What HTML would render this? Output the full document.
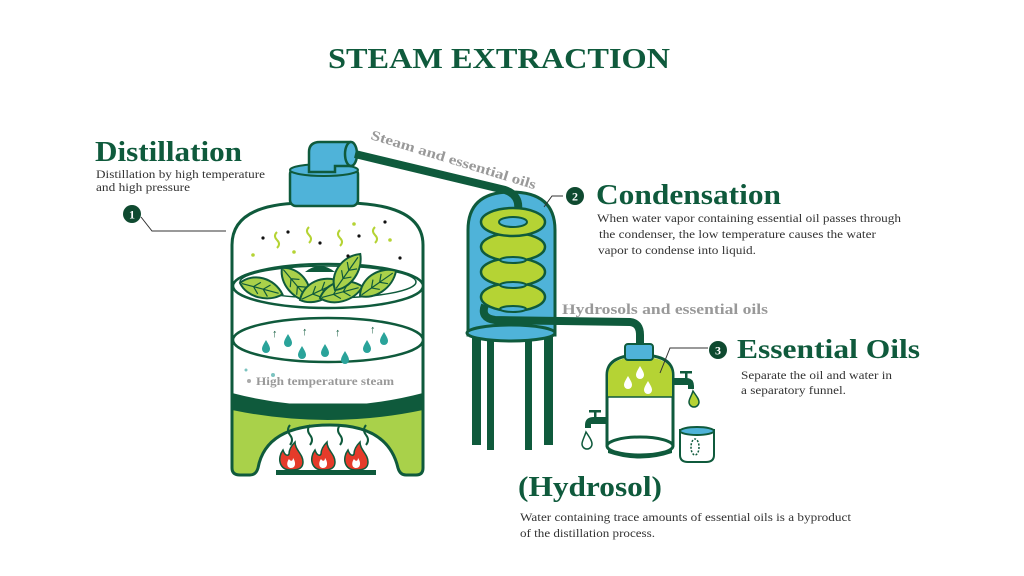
<!DOCTYPE html>
<html><head><meta charset="utf-8"><style>
html,body{margin:0;padding:0;background:#fff;}
svg{display:block}
text{font-family:"Liberation Serif",serif;}
</style></head><body>
<svg width="1024" height="576" viewBox="0 0 1024 576" xmlns="http://www.w3.org/2000/svg">
<defs>
<g id="leaf"><path d="M0,0 C10,-14 32,-14 44,0 C32,12 10,12 0,0Z" fill="#a9d14a" stroke="#0f5a3c" stroke-width="2"/><path d="M2,0 L40,0 M14,0 L20,-6 M24,0 L30,-6 M14,0 L20,6 M24,0 L30,6" stroke="#0f5a3c" stroke-width="1.2" fill="none"/></g>
<g id="drop"><path d="M0,-6 C3,-1 4,1 4,3 A4,4 0 0 1 -4,3 C-4,1 -3,-1 0,-6Z"/></g>
<g id="flame"><path d="M0,0 C-12,0 -14,-12 -8,-20 C-6,-14 -3,-14 -2,-16 C-2,-22 2,-26 4,-28 C4,-20 12,-16 12,-8 C12,-2 8,0 0,0Z" fill="#e53b2a" stroke="#0f5a3c" stroke-width="1.5"/><path d="M0,-2 C-4,-2 -5,-7 -2,-11 C0,-8 2,-9 2,-12 C5,-8 5,-2 0,-2Z" fill="#fff"/></g>
</defs>
<text x="328" y="68" textLength="342" lengthAdjust="spacingAndGlyphs" font-size="29" font-weight="bold" fill="#0f5a3c">STEAM  EXTRACTION</text>

<text x="95" y="161" textLength="147" lengthAdjust="spacingAndGlyphs" font-size="29" font-weight="bold" fill="#0f5a3c">Distillation</text>
<text x="96" y="178" textLength="169" lengthAdjust="spacingAndGlyphs" font-size="12" fill="#333">Distillation by high temperature</text>
<text x="96" y="191" textLength="94" lengthAdjust="spacingAndGlyphs" font-size="12" fill="#333">and high pressure</text>
<circle cx="132" cy="214" r="9" fill="#0f4a30"/><text x="132" y="218.5" text-anchor="middle" font-size="12" font-weight="bold" fill="#fff" font-family="Liberation Sans">1</text>
<polyline points="141,217 152,231 226,231" fill="none" stroke="#333" stroke-width="1"/>

<path d="M232,408 L423,408 L423,468 Q423,475 416,475 L406,475 Q400,475 398,468 Q388,425 330,425 Q266,425 258,468 Q256,475 250,475 L240,475 Q232,475 232,468Z" fill="#a9d14a" stroke="#0f5a3c" stroke-width="3"/>
<path d="M232,405 L232,245 Q232,205 300,203 L350,203 Q423,205 423,245 L423,405Z" fill="#fff" stroke="#0f5a3c" stroke-width="3"/>
<path d="M232,393 Q328,418 423,393 L423,410 Q328,430 232,410Z" fill="#0f5a3c"/>
<ellipse cx="328" cy="340" rx="95" ry="22" fill="#fff" stroke="#0f5a3c" stroke-width="2.5"/>
<ellipse cx="328" cy="286" rx="95" ry="22" fill="#fff" stroke="#0f5a3c" stroke-width="2.5"/>
<ellipse cx="328" cy="282" rx="88" ry="16" fill="#fff" stroke="#0f5a3c" stroke-width="1.5"/>
<path d="M305,272 Q320,260 335,272Z" fill="#0f5a3c"/>
<use href="#leaf" transform="translate(240,283) rotate(15)"/>
<use href="#leaf" transform="translate(282,268) rotate(50)"/>
<use href="#leaf" transform="translate(300,300) rotate(-25)"/>
<use href="#leaf" transform="translate(320,298) rotate(-15)"/>
<use href="#leaf" transform="translate(335,290) rotate(-55)"/>
<use href="#leaf" transform="translate(360,296) rotate(-35)"/>
<g fill="#0f5a3c" font-size="11" font-family="Liberation Sans">
<text x="272" y="337">↑</text><text x="302" y="335">↑</text><text x="335" y="336">↑</text><text x="370" y="333">↑</text></g>
<g fill="#2aa39a"><use href="#drop" x="288" y="340"/><use href="#drop" x="266" y="346"/><use href="#drop" x="302" y="352"/><use href="#drop" x="325" y="350"/><use href="#drop" x="345" y="357"/><use href="#drop" x="367" y="346"/><use href="#drop" x="384" y="338"/></g>
<g fill="#111"><circle cx="263" cy="238" r="1.6"/><circle cx="288" cy="232" r="1.6"/><circle cx="320" cy="243" r="1.6"/><circle cx="359" cy="236" r="1.6"/><circle cx="385" cy="222" r="1.6"/><circle cx="348" cy="256" r="1.6"/><circle cx="400" cy="258" r="1.6"/></g>
<g fill="none" stroke="#b5d334" stroke-width="2"><path d="M277,232 q-4,4 0,8 q4,4 0,8"/><path d="M309,227 q-4,4 0,8 q4,4 0,8"/><path d="M340,230 q-4,4 0,8 q4,4 0,8"/><path d="M375,227 q-4,4 0,8 q4,4 0,8"/></g>
<g fill="#b5d334"><circle cx="253" cy="255" r="1.8"/><circle cx="294" cy="252" r="1.8"/><circle cx="354" cy="224" r="1.8"/><circle cx="390" cy="240" r="1.8"/></g>
<g fill="#7cc3c0"><circle cx="246" cy="370" r="1.5"/><circle cx="273" cy="375" r="2"/></g>
<circle cx="249" cy="381" r="2" fill="#aaa"/>
<text x="256" y="385" textLength="138" lengthAdjust="spacingAndGlyphs" font-size="12" font-weight="bold" fill="#999">High temperature steam</text>
<g fill="none" stroke="#0f5a3c" stroke-width="2"><path d="M290,425 q-4,5 0,10 q4,5 0,10"/><path d="M310,425 q-4,5 0,10 q4,5 0,10"/><path d="M340,425 q-4,5 0,10 q4,5 0,10"/><path d="M366,425 q-4,5 0,10 q4,5 0,10"/></g>
<use href="#flame" x="291" y="470"/><use href="#flame" x="323" y="470"/><use href="#flame" x="356" y="470"/>
<rect x="276" y="470" width="100" height="5" fill="#0f5a3c"/>
<rect x="290" y="168" width="68" height="38" rx="6" fill="#4fb3d9" stroke="#0f5a3c" stroke-width="2.5"/>
<ellipse cx="324" cy="170" rx="34" ry="6" fill="#4fb3d9" stroke="#0f5a3c" stroke-width="2"/>
<path d="M309,172 L309,152 Q309,142 320,142 L350,142 L350,166 L335,166 L335,172Z" fill="#4fb3d9" stroke="#0f5a3c" stroke-width="2.5"/>
<ellipse cx="351" cy="154" rx="6" ry="12" fill="#4fb3d9" stroke="#0f5a3c" stroke-width="2.5"/>
<g fill="#0f5a3c"><rect x="472" y="335" width="9" height="110"/><rect x="487" y="340" width="7" height="110"/><rect x="525" y="340" width="7" height="110"/><rect x="544" y="335" width="9" height="110"/></g>
<path d="M468,335 L468,230 Q468,192 511,192 Q555,192 555,230 L555,335Z" fill="#4fb3d9" stroke="#0f5a3c" stroke-width="3"/>
<ellipse cx="511" cy="333" rx="44" ry="8" fill="#4fb3d9" stroke="#0f5a3c" stroke-width="3"/>
<path d="M355,154 L505,190 Q520,195 518,210 Q514,220 516,228" fill="none" stroke="#0f5a3c" stroke-width="8"/>
<g stroke="#0f5a3c" stroke-width="2.5" fill="#b5d334">
<ellipse cx="513" cy="297" rx="32" ry="14"/><ellipse cx="513" cy="272" rx="32" ry="14"/><ellipse cx="513" cy="247" rx="32" ry="14"/><ellipse cx="513" cy="222" rx="32" ry="14"/></g>
<g fill="#4fb3d9" stroke="#0f5a3c" stroke-width="2"><ellipse cx="513" cy="222" rx="14" ry="5"/><ellipse cx="513" cy="260" rx="13" ry="3"/><ellipse cx="513" cy="285" rx="13" ry="3"/><ellipse cx="513" cy="309" rx="13" ry="3"/></g>
<path d="M485,305 Q480,318 495,320 L630,322 Q640,323 640,335 L640,345" fill="none" stroke="#0f5a3c" stroke-width="8"/>
<polyline points="544,207 552,196 563,196" fill="none" stroke="#333" stroke-width="1"/>
<path d="M607,445 L607,375 Q607,355 640,355 Q673,355 673,375 L673,445Z" fill="#fff" stroke="#0f5a3c" stroke-width="3"/>
<path d="M608,397 L608,375 Q608,357 640,357 Q672,357 672,375 L672,397Z" fill="#b5d334"/>
<line x1="607" y1="397" x2="673" y2="397" stroke="#0f5a3c" stroke-width="1.5"/>
<ellipse cx="640" cy="446" rx="33" ry="9" fill="#fff" stroke="#0f5a3c" stroke-width="3"/>
<path d="M608,450 Q640,460 672,450 L672,453 Q640,464 608,453Z" fill="#0f5a3c"/>
<rect x="625" y="344" width="28" height="16" rx="3" fill="#4fb3d9" stroke="#0f5a3c" stroke-width="2"/>
<g fill="#fff"><use href="#drop" x="640" y="372"/><use href="#drop" x="628" y="382"/><use href="#drop" x="648" y="387"/></g>
<path d="M673,378 L686,378 Q694,378 694,386 L694,389 L688,389 L688,385 L673,385Z" fill="#0f5a3c"/>
<rect x="680" y="371" width="12" height="2.5" fill="#0f5a3c"/><rect x="685" y="371" width="2.5" height="8" fill="#0f5a3c"/>
<path d="M693,391 C697,397 699,399 699,402 A5,5 0 0 1 689,402 C689,399 691,397 693,391Z" fill="#b5d334" stroke="#0f5a3c" stroke-width="1.5"/>
<path d="M607,417 L594,417 Q585,417 585,425 L585,428 L591,428 L591,424 L607,424Z" fill="#0f5a3c"/>
<rect x="589" y="410" width="12" height="2.5" fill="#0f5a3c"/><rect x="594" y="410" width="2.5" height="8" fill="#0f5a3c"/>
<path d="M586,432 C590,438 592,441 592,444 A5,5 0 0 1 582,444 C582,441 584,438 586,432Z" fill="#fff" stroke="#0f5a3c" stroke-width="1.5"/>
<path d="M680,430 L714,430 L714,455 Q714,462 706,462 L688,462 Q680,462 680,455Z" fill="#fff" stroke="#0f5a3c" stroke-width="2"/>
<ellipse cx="697" cy="431" rx="17" ry="4" fill="#4fb3d9" stroke="#0f5a3c" stroke-width="2"/>
<ellipse cx="695" cy="447" rx="4" ry="8" fill="none" stroke="#0f5a3c" stroke-width="1.5" stroke-dasharray="2,1.5"/>
<polyline points="660,373 670,348 708,348" fill="none" stroke="#333" stroke-width="1"/>

<text transform="translate(370,139) rotate(17)" textLength="172" lengthAdjust="spacingAndGlyphs" font-size="14" font-weight="bold" fill="#999">Steam and essential oils</text>
<circle cx="575" cy="196" r="9" fill="#0f4a30"/><text x="575" y="200.5" text-anchor="middle" font-size="12" font-weight="bold" fill="#fff" font-family="Liberation Sans">2</text>
<text x="596" y="204" textLength="185" lengthAdjust="spacingAndGlyphs" font-size="29" font-weight="bold" fill="#0f5a3c">Condensation</text>
<g font-size="12" fill="#333"><text x="597" y="222" textLength="304" lengthAdjust="spacingAndGlyphs">When water vapor containing essential oil passes through</text>
<text x="599" y="238" textLength="277" lengthAdjust="spacingAndGlyphs">the condenser, the low temperature causes the water</text>
<text x="598" y="254" textLength="158" lengthAdjust="spacingAndGlyphs">vapor to condense into liquid.</text></g>
<text x="562" y="314" textLength="206" lengthAdjust="spacingAndGlyphs" font-size="15" font-weight="bold" fill="#999">Hydrosols and essential oils</text>
<circle cx="718" cy="350" r="9" fill="#0f4a30"/><text x="718" y="354.5" text-anchor="middle" font-size="12" font-weight="bold" fill="#fff" font-family="Liberation Sans">3</text>
<text x="737" y="358" textLength="183" lengthAdjust="spacingAndGlyphs" font-size="27" font-weight="bold" fill="#0f5a3c">Essential Oils</text>
<g font-size="12" fill="#333"><text x="741" y="379" textLength="151" lengthAdjust="spacingAndGlyphs">Separate the oil and water in</text><text x="741" y="394" textLength="105" lengthAdjust="spacingAndGlyphs">a separatory funnel.</text></g>
<text x="518" y="496" textLength="144" lengthAdjust="spacingAndGlyphs" font-size="28" font-weight="bold" fill="#0f5a3c">(Hydrosol)</text>
<g font-size="12" fill="#333"><text x="520" y="521" textLength="331" lengthAdjust="spacingAndGlyphs">Water containing trace amounts of essential oils is a byproduct</text><text x="520" y="537" textLength="135" lengthAdjust="spacingAndGlyphs">of the distillation process.</text></g>
</svg>
</body></html>
